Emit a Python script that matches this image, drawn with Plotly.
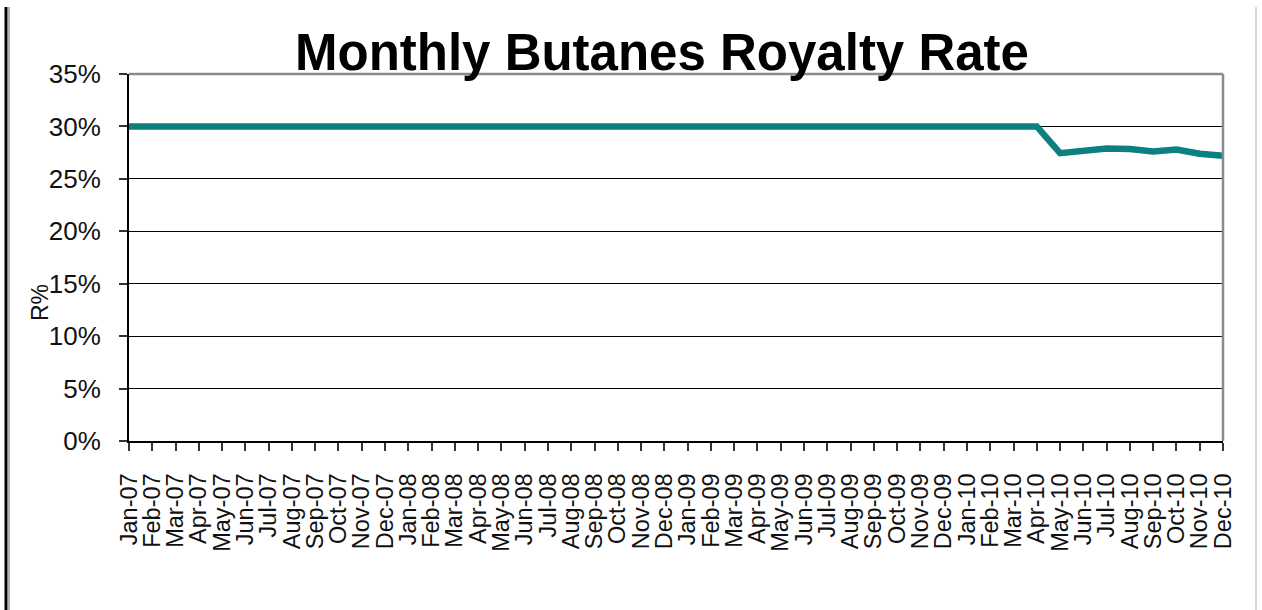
import plotly.graph_objects as go

months = [
    "Jan-07", "Feb-07", "Mar-07", "Apr-07", "May-07", "Jun-07", "Jul-07", "Aug-07", "Sep-07", "Oct-07", "Nov-07", "Dec-07",
    "Jan-08", "Feb-08", "Mar-08", "Apr-08", "May-08", "Jun-08", "Jul-08", "Aug-08", "Sep-08", "Oct-08", "Nov-08", "Dec-08",
    "Jan-09", "Feb-09", "Mar-09", "Apr-09", "May-09", "Jun-09", "Jul-09", "Aug-09", "Sep-09", "Oct-09", "Nov-09", "Dec-09",
    "Jan-10", "Feb-10", "Mar-10", "Apr-10", "May-10", "Jun-10", "Jul-10", "Aug-10", "Sep-10", "Oct-10", "Nov-10", "Dec-10",
]
royalty_rate = [
    30.0, 30.0, 30.0, 30.0, 30.0, 30.0, 30.0, 30.0, 30.0, 30.0, 30.0, 30.0,
    30.0, 30.0, 30.0, 30.0, 30.0, 30.0, 30.0, 30.0, 30.0, 30.0, 30.0, 30.0,
    30.0, 30.0, 30.0, 30.0, 30.0, 30.0, 30.0, 30.0, 30.0, 30.0, 30.0, 30.0,
    30.0, 30.0, 30.0, 30.0, 27.45, 27.7, 27.9, 27.85, 27.6, 27.8, 27.4, 27.2,
]
y_ticks = [0, 5, 10, 15, 20, 25, 30, 35]
y_tick_labels = ["0%", "5%", "10%", "15%", "20%", "25%", "30%", "35%"]

W, H = 1262, 610
L, R, T, B = 129, 1223, 74, 441
pw, ph = R - L, B - T


def px(x):
    return (x - L) / pw


def py(y):
    return (B - y) / ph


FONT = "Liberation Sans, Arial, sans-serif"

fig = go.Figure()
fig.add_trace(go.Scatter(
    x=list(range(len(months))), y=royalty_rate, mode="lines",
    line=dict(color="#0a8080", width=6.5), hoverinfo="skip", showlegend=False,
))

fig.update_layout(
    width=W, height=H,
    margin=dict(l=L, r=W - R, t=T, b=H - B, pad=0),
    paper_bgcolor="white", plot_bgcolor="white",
    font=dict(family=FONT, color="black"),
    showlegend=False,
    xaxis=dict(
        range=[0, len(months) - 1], tickmode="array",
        tickvals=list(range(len(months))), ticktext=months,
        tickangle=-90, tickfont=dict(size=23.5, color="#111"),
        ticks="outside", ticklen=8, tickwidth=1.5, tickcolor="#333",
        ticklabelstandoff=13,
        showline=True, linecolor="black", linewidth=2,
        showgrid=False, zeroline=False, fixedrange=True,
    ),
    yaxis=dict(
        range=[0, 35], tickmode="array", tickvals=y_ticks, ticktext=y_tick_labels,
        tickfont=dict(size=26, color="#111"),
        ticks="outside", ticklen=8, tickwidth=1.5, tickcolor="#333",
        ticklabelstandoff=13,
        showline=True, linecolor="black", linewidth=2,
        showgrid=True, gridcolor="black", gridwidth=1.3,
        zeroline=False, fixedrange=True,
    ),
    shapes=[
        # gray top and right plot border
        dict(type="line", xref="paper", yref="paper", x0=0, x1=1, y0=1, y1=1,
             line=dict(color="#8a8a8a", width=2.5), layer="above"),
        dict(type="line", xref="paper", yref="paper", x0=1, x1=1, y0=0, y1=1,
             line=dict(color="#8a8a8a", width=2.5), layer="above"),
        # page frame lines
        dict(type="line", xref="paper", yref="paper", x0=px(6), x1=px(6), y0=py(7), y1=py(612),
             line=dict(color="black", width=3)),
        dict(type="line", xref="paper", yref="paper", x0=px(9), x1=px(9), y0=py(7), y1=py(612),
             line=dict(color="#9a9a9a", width=1.5)),
        dict(type="line", xref="paper", yref="paper", x0=px(1256), x1=px(1256), y0=py(7), y1=py(612),
             line=dict(color="#c8c8c8", width=1.5)),
    ],
    annotations=[
        dict(text="<b>Monthly Butanes Royalty Rate</b>", xref="paper", yref="paper",
             x=px(662), y=py(22), xanchor="center", yanchor="top", showarrow=False,
             font=dict(size=51, family=FONT, color="black")),
        dict(text="R%", xref="paper", yref="paper", x=px(40), y=py(303),
             xanchor="center", yanchor="middle", textangle=-90, showarrow=False,
             font=dict(size=23, family=FONT, color="#111")),
    ],
)

fig.write_html("out.html", config={"displayModeBar": False},
               post_script="document.body.style.margin='0';")
